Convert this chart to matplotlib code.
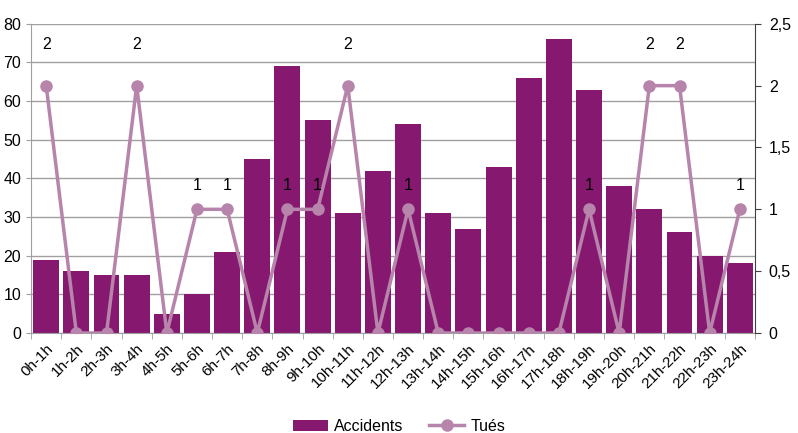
import matplotlib.pyplot as plt
import numpy as np

plt.rcParams['font.family'] = ['Liberation Sans', 'DejaVu Sans']

heures = ['0h-1h', '1h-2h', '2h-3h', '3h-4h', '4h-5h', '5h-6h', '6h-7h', '7h-8h',
          '8h-9h', '9h-10h', '10h-11h', '11h-12h', '12h-13h', '13h-14h', '14h-15h',
          '15h-16h', '16h-17h', '17h-18h', '18h-19h', '19h-20h', '20h-21h',
          '21h-22h', '22h-23h', '23h-24h']
accidents = [19, 16, 15, 15, 5, 10, 21, 45, 69, 55, 31, 42, 54, 31, 27, 43, 66, 76,
             63, 38, 32, 26, 20, 18]
tues = [2, 0, 0, 2, 0, 1, 1, 0, 1, 1, 2, 0, 1, 0, 0, 0, 0, 0, 1, 0, 2, 2, 0, 1]

fig = plt.figure(figsize=(7.98, 4.33), dpi=100)
ax = fig.add_axes([0.039, 0.231, 0.907, 0.714])
x = np.arange(len(heures))

ax.bar(x, accidents, width=0.86, color='#861870', label='Accidents', zorder=2)
ax.set_xlim(-0.5, len(heures) - 0.5)
ax.set_ylim(0, 80)
ax.set_yticks(range(0, 81, 10))
ax.grid(axis='y', color='#a0a0a0', linewidth=1, zorder=0)
ax.set_axisbelow(True)
ax.set_xticks(x)
ax.set_xticklabels(heures, rotation=45, ha='right', rotation_mode='anchor', fontsize=11)
ax.set_xticks(np.arange(-0.5, len(heures), 1), minor=True)
ax.tick_params(axis='x', which='major', length=0, pad=6)
ax.tick_params(axis='x', which='minor', length=4, color='#a0a0a0')
ax.tick_params(axis='y', labelsize=11.5, length=3.6, color='#a0a0a0', pad=3.5)
for s in ['top', 'right']:
    ax.spines[s].set_visible(False)
ax.spines['left'].set_color('#a0a0a0')
ax.spines['bottom'].set_color('#a0a0a0')

ax2 = ax.twinx()
ax2.plot(x, tues, color='#b784ab', linewidth=2.5, marker='o', markersize=8,
         label='Tués', zorder=3)
ax2.set_ylim(0, 2.5)
ax2.set_yticks([0, 0.5, 1, 1.5, 2, 2.5])
ax2.set_yticklabels(['0', '0,5', '1', '1,5', '2', '2,5'])
ax2.tick_params(axis='y', labelsize=11.5, length=4, color='#404040', pad=6)
for s in ['top', 'left', 'bottom']:
    ax2.spines[s].set_visible(False)
ax2.spines['right'].set_color('#404040')

for xi, t in zip(x, tues):
    if t > 0:
        off = 24 if t == 2 else 12
        ax2.annotate(str(t), (xi, t), xytext=(0, off), textcoords='offset points',
                     ha='center', va='bottom', fontsize=11.5)

h1, l1 = ax.get_legend_handles_labels()
h2, l2 = ax2.get_legend_handles_labels()
fig.legend(h1 + h2, l1 + l2, loc='lower center', bbox_to_anchor=(0.5, -0.035),
           ncol=2, frameon=False, fontsize=11.5, handlelength=2.2, columnspacing=1.6,
           handletextpad=0.4)

fig.savefig('out.png', dpi=100)
